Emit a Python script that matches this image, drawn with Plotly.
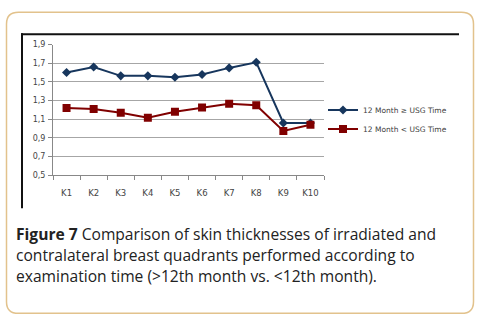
import plotly.graph_objects as go

categories = ["K1", "K2", "K3", "K4", "K5", "K6", "K7", "K8", "K9", "K10"]
over_12 = [1.60, 1.66, 1.565, 1.565, 1.55, 1.58, 1.65, 1.71, 1.06, 1.06]
under_12 = [1.22, 1.21, 1.17, 1.115, 1.18, 1.225, 1.265, 1.25, 0.975, 1.04]
ytick_vals = [0.5, 0.7, 0.9, 1.1, 1.3, 1.5, 1.7, 1.9]
ytick_text = ["0,5", "0,7", "0,9", "1,1", "1,3", "1,5", "1,7", "1,9"]
series_names = ["12 Month \u2265 USG Time", "12 Month < USG Time"]
caption_lines = [
    "<b>Figure 7</b> Comparison of skin thicknesses of irradiated and",
    "contralateral breast quadrants performed according to",
    "examination time (>12th month vs. <12th month).",
]

W, H = 483, 331
def px(x): return x / W
def py(y): return 1 - y / H

fig = go.Figure()
fig.add_trace(go.Scatter(
    x=categories, y=over_12, name=series_names[0], mode="lines+markers",
    line=dict(color="#17365d", width=2),
    marker=dict(symbol="diamond", size=7, color="#17365d"),
))
fig.add_trace(go.Scatter(
    x=categories, y=under_12, name=series_names[1], mode="lines+markers",
    line=dict(color="#800000", width=2),
    marker=dict(symbol="square", size=8, color="#800000"),
))

shapes = [
    # outer rounded frame
    dict(type="path", xref="paper", yref="paper",
         path=("M {a},{t} L {b},{t} Q {r},{t} {r},{t2} L {r},{bb2} Q {r},{bb} {b},{bb} "
               "L {a},{bb} Q {l},{bb} {l},{bb2} L {l},{t2} Q {l},{t} {a},{t} Z").format(
             l=px(6.5), r=px(473.5), a=px(18.5), b=px(461.5),
             t=py(8.5), t2=py(20.5), bb=py(318), bb2=py(306)),
         line=dict(color="#e2c28c", width=1.5), fillcolor="rgba(0,0,0,0)"),
    # chart picture border (top and left)
    dict(type="line", xref="paper", yref="paper", x0=px(21), x1=px(459),
         y0=py(31), y1=py(31), line=dict(color="#111111", width=2)),
    dict(type="line", xref="paper", yref="paper", x0=px(22), x1=px(22),
         y0=py(30), y1=py(210), line=dict(color="#111111", width=2)),
]

annotations = []
for i, line in enumerate(caption_lines):
    annotations.append(dict(
        text=line, xref="paper", yref="paper", x=px(14), y=py(236 + i * 22),
        xanchor="left", yanchor="middle", showarrow=False,
        font=dict(family="Open Sans", size=15.6, color="#222222"),
    ))

fig.update_layout(
    width=W, height=H, margin=dict(l=0, r=0, t=0, b=0),
    paper_bgcolor="white", plot_bgcolor="white",
    shapes=shapes, annotations=annotations,
    showlegend=True,
    legend=dict(x=px(323), y=py(94), xanchor="left", yanchor="top",
                font=dict(family="DejaVu Sans", size=7.5, color="#404040"),
                bgcolor="rgba(0,0,0,0)", tracegroupgap=0, itemwidth=30),
    xaxis=dict(domain=[px(53), px(324)], type="category",
               tickson="boundaries", ticks="outside", ticklen=4, tickcolor="#888888",
               showgrid=False, showline=True, linecolor="#888888", linewidth=1,
               tickfont=dict(family="DejaVu Sans", size=8.5, color="#444444"),
               ticklabelstandoff=10, range=[-0.5, 9.5]),
    yaxis=dict(domain=[py(176), py(41.7)], range=[0.5, 1.9],
               tickvals=ytick_vals, ticktext=ytick_text,
               ticks="outside", ticklen=4, tickcolor="#888888",
               showgrid=True, gridcolor="#a6a6a6", gridwidth=1,
               showline=True, linecolor="#888888", linewidth=1, zeroline=False,
               tickfont=dict(family="DejaVu Sans", size=8, color="#444444"),
               ticklabelstandoff=1),
)

fig.write_html("out.html")
